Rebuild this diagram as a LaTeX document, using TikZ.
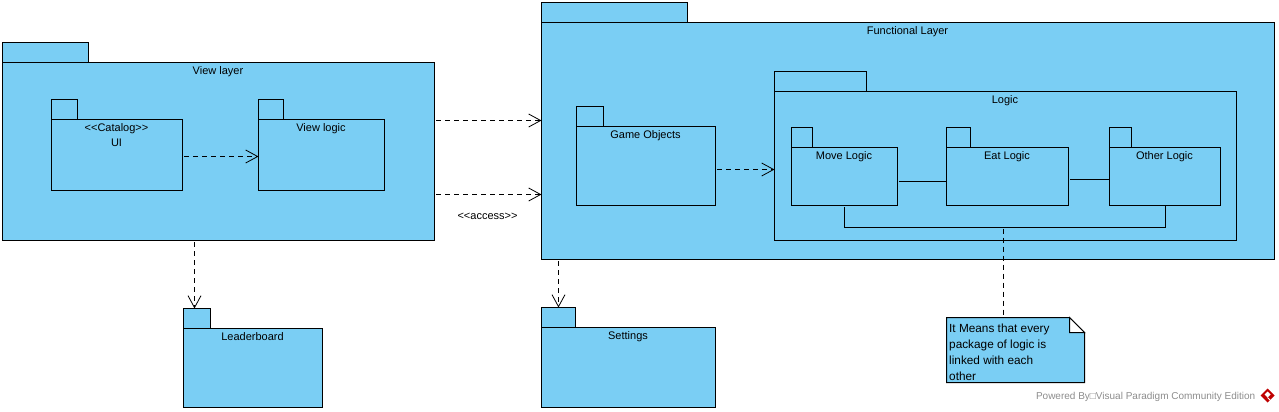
\documentclass[tikz,border=0pt]{standalone}
\usepackage{fontspec}
\setmainfont{Liberation Sans}
\usetikzlibrary{arrows.meta,positioning}
\definecolor{pkgblue}{HTML}{7ACEF4}
\tikzset{
  pkg/.style={draw,fill=pkgblue,line width=1pt,anchor=north west,inner sep=0pt,outer sep=0pt},
  lbl/.style={inner sep=0pt,font=\fontsize{11}{15}\selectfont,align=center},
  dep/.style={draw,line width=.8pt,dash pattern=on 5pt off 4pt,shorten <=1.5pt,
    -{Straight Barb[length=12pt,width=13pt,line width=.8pt]}},
  link/.style={draw,line width=1pt,shorten <=1.5pt},
}
\begin{document}
\begin{tikzpicture}[x=1pt,y=-1pt]
\useasboundingbox (-.5,-.5) rectangle (1278.5,411.5);

% view layer
\node (viewtab) [pkg,minimum width=86pt,minimum height=20pt] at (2,42) {};
\node (view) [pkg,minimum width=432pt,minimum height=178pt] at (2,62) {};
\node (viewlbl) [lbl,below=4pt of view.north,xshift=-.5pt] {View layer};
\node (uitab) [pkg,minimum width=26pt,minimum height=20pt] at (51,99) {};
\node (ui) [pkg,minimum width=131pt,minimum height=71pt] at (51,119) {};
\node (uilbl) [lbl,below=4pt of ui.north,xshift=-.5pt] {<{}<Catalog>{}>\\UI};
\node (vlogictab) [pkg,minimum width=25pt,minimum height=20pt] at (258,99) {};
\node (vlogic) [pkg,minimum width=126pt,minimum height=71pt] at (258,119) {};
\node (vlogiclbl) [lbl,below=4pt of vlogic.north,xshift=-.5pt] {View logic};

% functional layer
\node (functab) [pkg,minimum width=146pt,minimum height=20pt] at (541,2) {};
\node (func) [pkg,minimum width=733pt,minimum height=237pt] at (541,22) {};
\node (funclbl) [lbl,below=4pt of func.north,xshift=-.5pt] {Functional Layer};
\node (gametab) [pkg,minimum width=27pt,minimum height=20pt] at (576,106) {};
\node (game) [pkg,minimum width=139pt,minimum height=79pt] at (576,126) {};
\node (gamelbl) [lbl,below=4pt of game.north,xshift=-.5pt] {Game Objects};
\node (logictab) [pkg,minimum width=92pt,minimum height=20pt] at (774,71) {};
\node (logic) [pkg,minimum width=462pt,minimum height=149pt] at (774,91) {};
\node (logiclbl) [lbl,below=4pt of logic.north,xshift=-.5pt] {Logic};
\node (movetab) [pkg,minimum width=21pt,minimum height=20pt] at (791,127) {};
\node (move) [pkg,minimum width=106pt,minimum height=58pt] at (791,147) {};
\node (movelbl) [lbl,below=4pt of move.north,xshift=-.5pt] {Move Logic};
\node (eattab) [pkg,minimum width=24pt,minimum height=20pt] at (946,127) {};
\node (eat) [pkg,minimum width=122pt,minimum height=58pt] at (946,147) {};
\node (eatlbl) [lbl,below=4pt of eat.north,xshift=-.5pt] {Eat Logic};
\node (othertab) [pkg,minimum width=22pt,minimum height=20pt] at (1109,127) {};
\node (other) [pkg,minimum width=111pt,minimum height=58pt] at (1109,147) {};
\node (otherlbl) [lbl,below=4pt of other.north,xshift=-.5pt] {Other Logic};

% below the layers
\node (leadertab) [pkg,minimum width=27pt,minimum height=20pt] at (183,308) {};
\node (leader) [pkg,minimum width=139pt,minimum height=79pt] at (183,328) {};
\node (leaderlbl) [lbl,below=4pt of leader.north,xshift=-.5pt] {Leaderboard};
\node (settingstab) [pkg,minimum width=34pt,minimum height=20pt] at (541,307) {};
\node (settings) [pkg,minimum width=174pt,minimum height=80pt] at (541,327) {};
\node (settingslbl) [lbl,below=4pt of settings.north,xshift=-.5pt] {Settings};

% note
\coordinate (notetop) at (1003,317);
\path [draw,fill=pkgblue,line width=1pt] (946,317) -- (1069,317) -- (1084,332) -- (1084,382) -- (946,382) -- cycle;
\path [draw,fill=white,line width=1pt] (1069,317) -- (1069,332) -- (1084,332) -- cycle;
\node (notetxt) [anchor=north west,inner sep=0pt,align=left,font=\fontsize{11.8}{16}\selectfont] at (948.5,323)
  {It Means that every\\package of logic is\\linked with each\\other};

% connectors
\draw [dep] (ui.east |- 0,156) -- (vlogic.west |- 0,156);
\draw [dep] (view.east |- 0,120) -- (func.west |- 0,120);
\draw [dep] (view.east |- 0,194) -- (func.west |- 0,194);
\node (access) [lbl,font=\fontsize{11}{12}\selectfont] at (487,216) {<{}<access>{}>};
\draw [dep] (game.east |- 0,169) -- (logic.west |- 0,169);
\draw [dep] (view.south -| 194,0) -- (leadertab.north -| 194,0);
\draw [dep] (func.south -| 558,0) -- (settingstab.north -| 558,0);
\draw [link] (move.east |- 0,181) -- (eat.west |- 0,181);
\draw [link] (eat.east |- 0,179) -- (other.west |- 0,179);
\draw [link] (move.south -| 844,0) -- (844,227) -- (1165,227) -- (other.south -| 1165,0);
\draw [line width=.8pt,dash pattern=on 5pt off 4pt] (1003,228) -- (notetop);

% watermark
\node (powered) [anchor=east,inner sep=0pt,text=black!45,font=\fontsize{10}{12}\selectfont] at (1255,396)
  {Powered By□Visual Paradigm Community Edition};
\fill [red!75!black] (1267,388) -- (1274,395) -- (1267,402) -- (1260,395) -- cycle;
\fill [white] (1267,391) -- (1270,394) -- (1267,397) -- (1264,394) -- cycle;
\draw [white,line width=.8pt] (1267,397) -- (1271,401);
\end{tikzpicture}
\end{document}
